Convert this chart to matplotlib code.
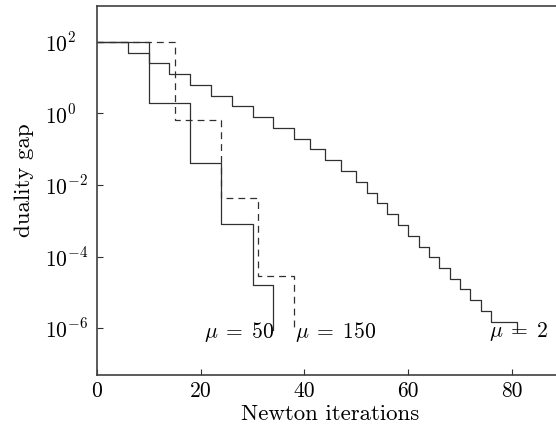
import matplotlib
matplotlib.use("Agg")
import matplotlib.pyplot as plt

plt.rcParams['font.family'] = 'serif'
plt.rcParams['font.serif'] = ['cmr10', 'DejaVu Serif']
plt.rcParams['mathtext.fontset'] = 'cm'
plt.rcParams['axes.formatter.use_mathtext'] = True

# data (Newton iterations vs duality gap)
mu2_iters = [0, 6, 10, 14, 18, 22, 26, 30, 34, 38, 41, 44, 47, 50, 52, 54,
             56, 58, 60, 62, 64, 66, 68, 70, 72, 74, 76, 81]
mu2_gap = [100, 50, 25, 12.5, 6.25, 3.1, 1.56, 0.78, 0.39, 0.195, 0.098, 0.049,
           0.024, 0.012, 6.1e-3, 3.05e-3, 1.5e-3, 7.6e-4, 3.8e-4, 1.9e-4,
           9.5e-5, 4.8e-5, 2.4e-5, 1.2e-5, 6e-6, 3e-6, 1.5e-6, 8e-7]

mu50_iters = [0, 10, 18, 24, 30, 34]
mu50_gap = [100, 2.0, 0.04, 8e-4, 1.6e-5, 9e-7]

mu150_iters = [0, 15, 24, 31, 38]
mu150_gap = [100, 0.667, 4.4e-3, 2.9e-5, 9e-7]

xticks = [0, 20, 40, 60, 80]
yticks = [1e2, 1e0, 1e-2, 1e-4, 1e-6]
ytick_labels = ['$10^{2}$', '$10^{0}$', '$10^{-2}$', '$10^{-4}$', '$10^{-6}$']

W, H = 556, 425
fig = plt.figure(figsize=(W / 100, H / 100), dpi=100)
left, right, top, bottom = 96.8, 96.8 + 90 * 5.19, 6, 375
ax = fig.add_axes([left / W, 1 - bottom / H, (right - left) / W, (bottom - top) / H])

lc = '#303030'
ax.step(mu2_iters, mu2_gap, where='post', color=lc, lw=0.9)
ax.step(mu50_iters, mu50_gap, where='post', color=lc, lw=0.9)
ax.step(mu150_iters, mu150_gap, where='post', color=lc, lw=0.9,
        linestyle=(0, (5.5, 4.0)))

ax.set_yscale('log')
ax.set_xlim(0, 90)
ax.set_ylim(10 ** -7.31, 1e3)
ax.set_xticks(xticks)
ax.set_xticklabels([str(t) for t in xticks])
ax.set_yticks(yticks)
ax.set_yticklabels(ytick_labels)
ax.minorticks_off()
ax.tick_params(direction='in', length=4, width=0.8, color=lc, labelsize=15.5)
ax.tick_params(axis='x', pad=5)
ax.tick_params(axis='y', pad=37)
for lab in ax.get_yticklabels():
    lab.set_horizontalalignment('left')

for s in ['left', 'bottom', 'top', 'right']:
    ax.spines[s].set_color('#404040')
    ax.spines[s].set_linewidth(1.2)

ax.text(34.2, 8e-7, r'$\mu\;=\;50$', ha='right', va='center', fontsize=15.5)
ax.text(38.2, 8e-7, r'$\mu\;=\;150$', ha='left', va='center', fontsize=15.5)
ax.text(81.3, 8e-7, r'$\mu\;=\;2$', ha='center', va='center', fontsize=15.5)

fig.text(24 / W, 1 - 180 / H, 'duality gap', rotation=90, ha='center',
         va='center', fontsize=16.5)
fig.text(330 / W, 1 - 414 / H, 'Newton iterations', ha='center',
         va='center', fontsize=16.5)

fig.savefig('out.png', dpi=100)
